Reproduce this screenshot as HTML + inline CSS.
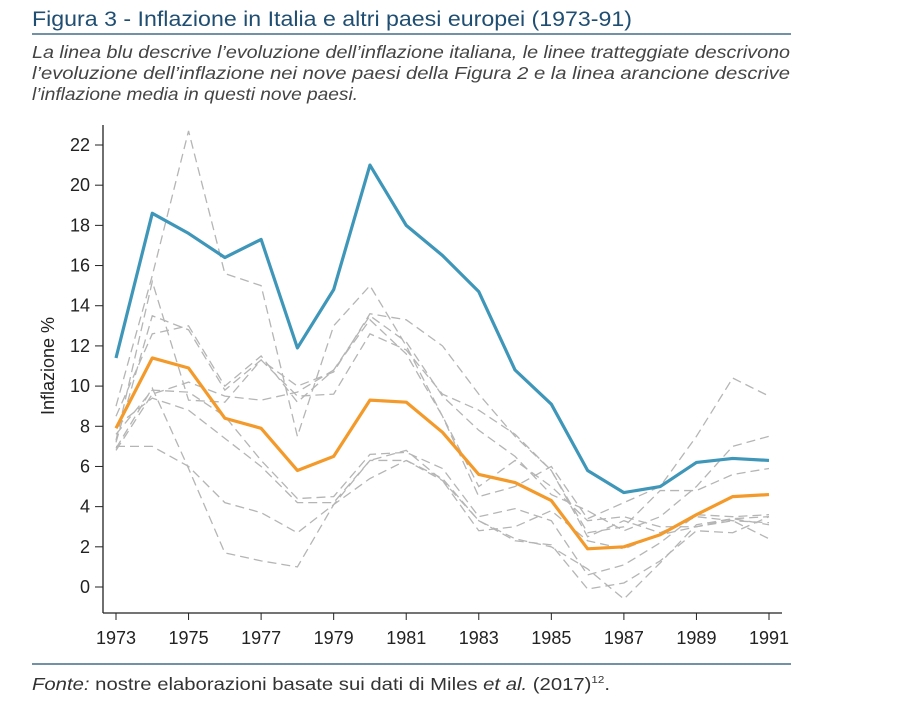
<!DOCTYPE html>
<html><head><meta charset="utf-8">
<style>
body{margin:0;background:#fff;width:901px;height:719px;overflow:hidden;font-family:"Liberation Sans",sans-serif;}
</style></head>
<body>
<svg id="chart" width="901" height="719" xmlns="http://www.w3.org/2000/svg">
<text x="32" y="26" font-size="21" fill="#1f4e72" textLength="600" lengthAdjust="spacingAndGlyphs" font-family="Liberation Sans, sans-serif">Figura 3 - Inflazione in Italia e altri paesi europei (1973-91)</text>
<line x1="32" y1="34" x2="791" y2="34" stroke="#1f4e72" stroke-width="1.2"/>
<g font-size="17.5" font-style="italic" fill="#444">
<text x="32" y="58" textLength="758" lengthAdjust="spacingAndGlyphs">La linea blu descrive l’evoluzione dell’inflazione italiana, le linee tratteggiate descrivono</text>
<text x="32" y="79" textLength="758" lengthAdjust="spacingAndGlyphs">l’evoluzione dell’inflazione nei nove paesi della Figura 2 e la linea arancione descrive</text>
<text x="32" y="100" textLength="326" lengthAdjust="spacingAndGlyphs">l’inflazione media in questi nove paesi.</text>
</g>
<g id="plot"></g>
<line x1="32" y1="664" x2="791" y2="664" stroke="#1f4e72" stroke-width="1.2"/>
<text x="32" y="690" font-size="17.5" fill="#333" textLength="578" lengthAdjust="spacingAndGlyphs"><tspan font-style="italic">Fonte:</tspan> nostre elaborazioni basate sui dati di Miles <tspan font-style="italic">et al.</tspan> (2017)<tspan font-size="10" dy="-7">12</tspan><tspan dy="7">.</tspan></text>
</svg>
<script>
const years=[1973,1974,1975,1976,1977,1978,1979,1980,1981,1982,1983,1984,1985,1986,1987,1988,1989,1990,1991];
const italy=[11.4,18.6,17.6,16.4,17.3,11.9,14.8,21.0,18.0,16.5,14.7,10.8,9.1,5.8,4.7,5.0,6.2,6.4,6.3];
const average=[7.9,11.4,10.9,8.4,7.9,5.8,6.5,9.3,9.2,7.7,5.6,5.2,4.3,1.9,2.0,2.6,3.6,4.5,4.6];
const countryA=[9,15.5,22.7,15.6,15,7.5,13,15,12,8.5,4.5,5,6,3.4,4.2,5,7.5,10.4,9.5];
const countryB=[7.2,13.5,12.8,9.8,11.3,10,10.7,13.6,13.3,12,9.6,7.5,5.8,2.5,3.3,2.7,3.5,3.3,3.2];
const countryC=[8.5,12.6,13,10,11.5,9.2,10.8,13.5,12.2,9.5,7.8,6.5,4.6,3.8,2.8,3.5,5,7,7.5];
const countryD=[7.3,15.2,9.3,9.2,11.3,9.5,9.6,12.6,11.8,9.6,8.8,7.6,5.8,2.7,3,4.8,4.8,5.6,5.9];
const countryE=[6.8,9.6,10.2,9.5,9.3,9.7,10.8,13.3,11.6,8.5,5,6.3,5,3.3,3.5,3,3,3.3,2.4];
const countryF=[7,7,6,4.2,3.7,2.7,4.1,5.4,6.3,5.3,3.3,2.3,2.1,-0.1,0.2,1.3,2.8,2.7,3.5];
const countryG=[6.9,9.9,5.9,1.7,1.3,1,4.1,6.3,6.3,5.4,3.3,2.4,2,0.9,-0.6,1.2,3.1,3.4,3.1];
const countryH=[8,9.4,8.8,7.4,6,4.2,4.2,6.3,6.8,5.3,2.8,3,3.8,2.3,1.9,2.6,3,3.4,3.5];
const countryI=[7.6,9.8,9.7,8.5,6.3,4.4,4.5,6.6,6.7,5.9,3.5,3.9,3.3,0.6,1.1,2.2,3.6,3.5,3.6];
const yTicks=[0,2,4,6,8,10,12,14,16,18,20,22];
const xTicks=[1973,1975,1977,1979,1981,1983,1985,1987,1989,1991];

const NS="http://www.w3.org/2000/svg";
const plot=document.getElementById('plot');
const X=y=>116+(y-1973)*(769-116)/18;
const Y=v=>587-v*(587-145)/22;
function mk(t,a){const e=document.createElementNS(NS,t);for(const k in a)e.setAttribute(k,a[k]);plot.appendChild(e);return e;}

const yAxis=mk('line',{x1:103,y1:125,x2:103,y2:613,stroke:'#222','stroke-width':1.3});


const xAxis=mk('line',{x1:103,y1:613,x2:782,y2:613,stroke:'#222','stroke-width':1.3});



yTicks.forEach(v=>{
  const t=mk('line',{x1:95,y1:Y(v),x2:103,y2:Y(v),stroke:'#222','stroke-width':1});
  
  
  const l=mk('text',{x:90,y:Y(v)+6,'text-anchor':'end','font-size':18,fill:'#222'});
  l.textContent=v;
  
  
});
xTicks.forEach(v=>{
  const t=mk('line',{x1:X(v),y1:613,x2:X(v),y2:620,stroke:'#222','stroke-width':1});
  
  
  const l=mk('text',{x:X(v),y:644,'text-anchor':'middle','font-size':18,fill:'#222'});
  l.textContent=v;
  
  
});
const yt=mk('text',{x:0,y:0,'text-anchor':'middle','font-size':18,fill:'#222',transform:'translate(54,366) rotate(-90)'});
yt.textContent='Inflazione %';



function pts(arr){return arr.map((v,i)=>X(years[i])+','+Y(v)).join(' ');}
[countryA,countryB,countryC,countryD,countryE,countryF,countryG,countryH,countryI].forEach((s,i)=>{
  const p=mk('polyline',{points:pts(s),fill:'none',stroke:'#b5b5b5','stroke-width':1.3,'stroke-dasharray':'9,5'});
  
  
});
const avg=mk('polyline',{points:pts(average),fill:'none',stroke:'#f39a2a','stroke-width':3.2,'stroke-linejoin':'round'});


const it=mk('polyline',{points:pts(italy),fill:'none',stroke:'#3e96b8','stroke-width':3.2,'stroke-linejoin':'round'});


</script>
</body></html>
